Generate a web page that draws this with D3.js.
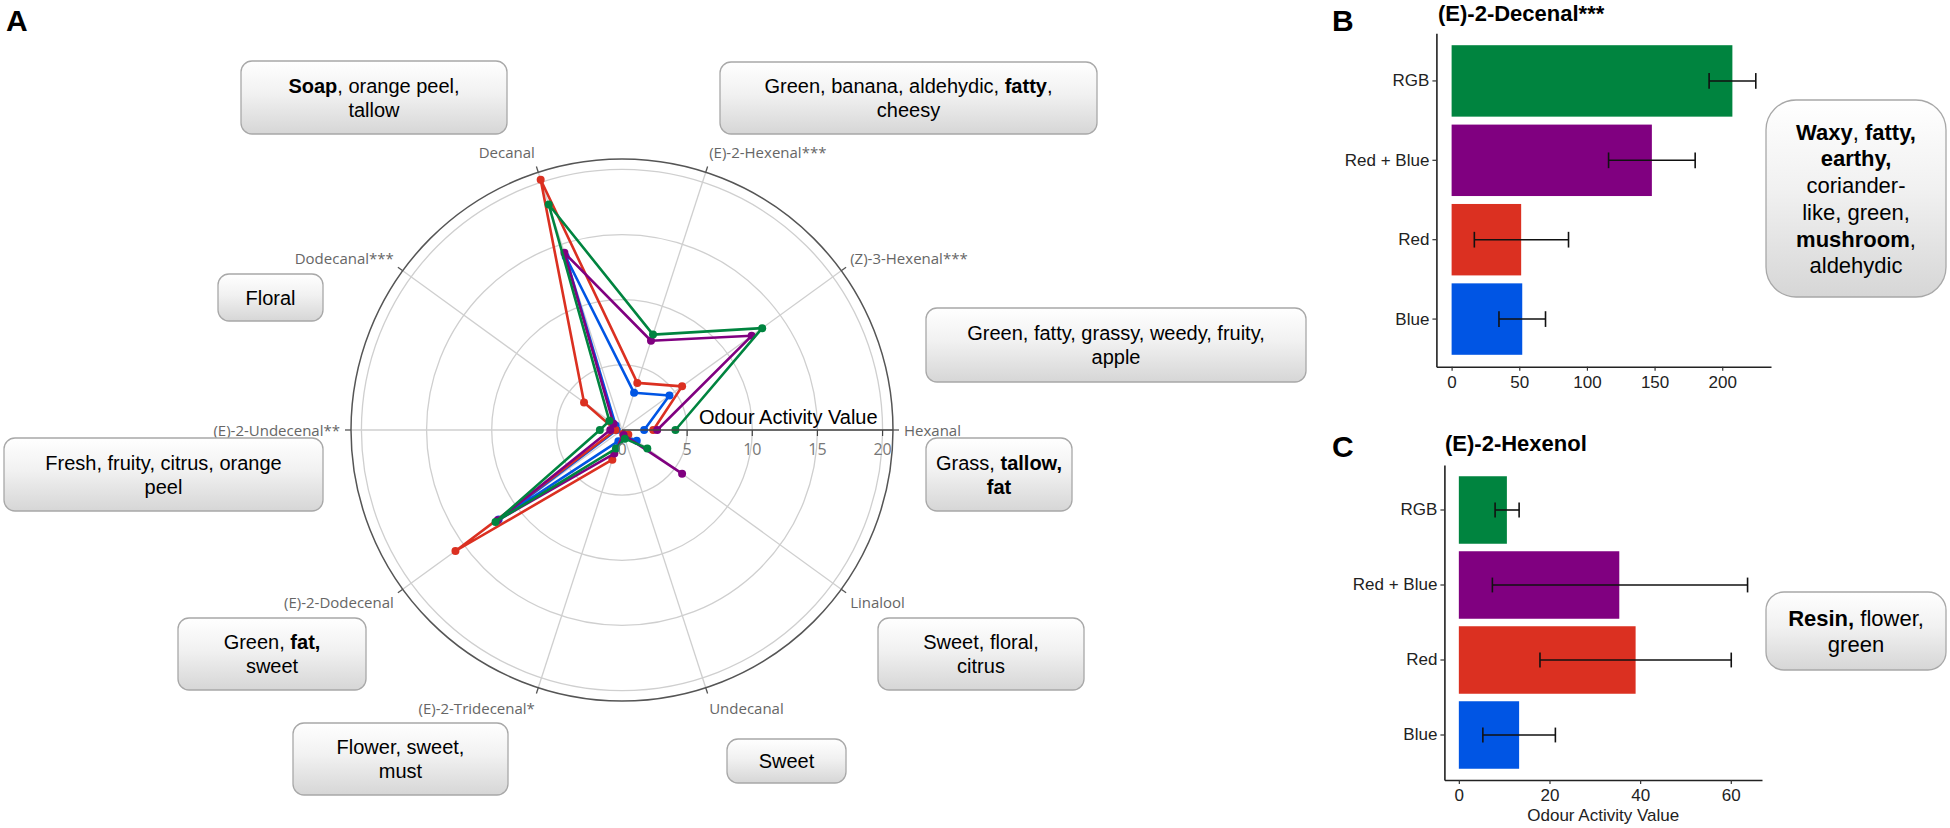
<!DOCTYPE html>
<html><head><meta charset="utf-8">
<script src="https://cdn.jsdelivr.net/npm/d3@7"></script>
<style>body{margin:0;background:#fff}svg{display:block}</style>
</head><body>
<svg id="c" width="1950" height="828"></svg>
<script>
// ---------------- DATA ----------------
const categories = ["Hexanal","(Z)-3-Hexenal***","(E)-2-Hexenal***","Decanal","Dodecanal***",
  "(E)-2-Undecenal**","(E)-2-Dodecenal","(E)-2-Tridecenal*","Undecanal","Linalool"];
const blueVals    = [1.7, 4.5, 3.0, 14.0, 0.6, 0.4, 11.7, 0.9, 0.5, 1.4];
const redVals     = [2.4, 5.7, 3.8, 20.2, 3.6, 0.5, 15.8, 2.4, 0.3, 0.6];
const redBlueVals = [2.7, 12.3, 7.2, 14.3, 0.8, 0.9, 11.8, 1.9, 0.4, 5.7];
const rgbVals     = [4.1, 13.3, 7.7, 18.2, 1.2, 1.7, 12.0, 1.5, 0.7, 2.4];
const radialTicks = [0, 5, 10, 15, 20];
const radialMax = 20.8;

const treatments  = ["RGB", "Red + Blue", "Red", "Blue"];
const decenalMean = [207.5, 148.0, 51.4, 52.2];
const decenalLow  = [190.3, 116.0, 16.8, 35.0];
const decenalHigh = [224.8, 180.0, 86.4, 69.4];
const decenalTicks = [0, 50, 100, 150, 200];
const hexenolMean = [10.6, 35.4, 39.0, 13.3];
const hexenolLow  = [8.0, 7.4, 17.9, 5.3];
const hexenolHigh = [13.3, 63.7, 60.1, 21.3];
const hexenolTicks = [0, 20, 40, 60];

// ---------------- STYLE ----------------
const colors = {Blue:"#0055E4", Red:"#DB3021", "Red + Blue":"#800080", RGB:"#00843F"};
const svg = d3.select("#c");
const sans = "'Liberation Sans', Arial, Helvetica, sans-serif";

const defs = svg.append("defs");
const grad = defs.append("linearGradient").attr("id","boxGrad").attr("x1",0).attr("y1",0).attr("x2",0).attr("y2",1);
grad.append("stop").attr("offset","0%").attr("stop-color","#ffffff");
grad.append("stop").attr("offset","45%").attr("stop-color","#f1f1f1");
grad.append("stop").attr("offset","100%").attr("stop-color","#d6d6d6");

// Panel letters
[["A",6,31],["B",1332,31],["C",1332,457]].forEach(([t,x,y])=>{
  svg.append("text").attr("x",x).attr("y",y).attr("font-family",sans).attr("font-weight","bold")
    .attr("font-size",30).attr("fill","#000").text(t);
});

// ---------------- POLAR (A) ----------------
const P = {cx:622, cy:430, rOuter:271};
const rScale = d3.scaleLinear().domain([0, radialMax]).range([0, P.rOuter]);
const aScale = d3.scaleLinear().domain([0, categories.length]).range([0, 2*Math.PI]);
const px = (i, v) => P.cx + rScale(v) * Math.cos(aScale(i));
const py = (i, v) => P.cy - rScale(v) * Math.sin(aScale(i));

const gp = svg.append("g");
gp.selectAll("circle.grid").data(radialTicks.filter(d=>d>0)).join("circle")
  .attr("cx",P.cx).attr("cy",P.cy).attr("r",d=>rScale(d))
  .attr("fill","none").attr("stroke","#cfcfcf").attr("stroke-width",1.3);
gp.selectAll("line.spoke").data(categories).join("line")
  .attr("x1",P.cx).attr("y1",P.cy)
  .attr("x2",(d,i)=>px(i,radialMax)).attr("y2",(d,i)=>py(i,radialMax))
  .attr("stroke","#cfcfcf").attr("stroke-width",1.3);
gp.append("circle").attr("cx",P.cx).attr("cy",P.cy).attr("r",rScale(radialMax))
  .attr("fill","none").attr("stroke","#555").attr("stroke-width",1.5);
gp.selectAll("line.atick").data(categories).join("line")
  .attr("x1",(d,i)=>px(i,radialMax)).attr("y1",(d,i)=>py(i,radialMax))
  .attr("x2",(d,i)=>P.cx+(P.rOuter+6)*Math.cos(aScale(i))).attr("y2",(d,i)=>P.cy-(P.rOuter+6)*Math.sin(aScale(i)))
  .attr("stroke","#555").attr("stroke-width",1.3);
gp.selectAll("text.alab").data(categories).join("text")
  .attr("x",(d,i)=>P.cx+(P.rOuter+11)*Math.cos(aScale(i)))
  .attr("y",(d,i)=>P.cy-(P.rOuter+11)*Math.sin(aScale(i)) - 10*Math.sin(aScale(i)))
  .attr("text-anchor",(d,i)=>{const c=Math.cos(aScale(i)); return c>0.05?"start":(c<-0.05?"end":"middle");})
  .attr("dominant-baseline","central")
  .attr("font-family","'Open Sans', sans-serif").attr("font-size",15).attr("fill","#666")
  .text(d=>d);

const series = [["Blue",blueVals],["Red",redVals],["Red + Blue",redBlueVals],["RGB",rgbVals]];
const lineGen = d3.line().x(d=>px(d.i,d.v)).y(d=>py(d.i,d.v));
series.forEach(([name, vals])=>{
  const pts = vals.map((v,i)=>({i,v}));
  gp.append("path").datum(pts).attr("d",lineGen).attr("fill","none")
    .attr("stroke",colors[name]).attr("stroke-width",2.6).attr("stroke-linejoin","round");
  gp.selectAll(null).data(pts).join("circle")
    .attr("cx",d=>px(d.i,d.v)).attr("cy",d=>py(d.i,d.v)).attr("r",4).attr("fill",colors[name]);
});

gp.append("line").attr("x1",P.cx).attr("y1",P.cy).attr("x2",P.cx+P.rOuter).attr("y2",P.cy)
  .attr("stroke","#444").attr("stroke-width",1.3);
gp.selectAll("line.rtick").data(radialTicks.filter(d=>d>0)).join("line")
  .attr("x1",d=>P.cx+rScale(d)).attr("x2",d=>P.cx+rScale(d))
  .attr("y1",P.cy).attr("y2",P.cy+6).attr("stroke","#444").attr("stroke-width",1.2);
gp.selectAll("text.rlab").data(radialTicks).join("text")
  .attr("x",d=>P.cx+rScale(d)).attr("y",P.cy+19).attr("text-anchor","middle")
  .attr("dominant-baseline","central")
  .attr("font-family","'Open Sans', sans-serif").attr("font-size",16).attr("fill","#777")
  .text(d=>d);
gp.append("text").attr("x",P.cx+77).attr("y",P.cy-6)
  .attr("font-family",sans).attr("font-size",20).attr("fill","#000").text("Odour Activity Value");

// ---------------- ANNOTATION BOXES ----------------
const boxesA = [
  {x0:241,y0:61,x1:507,y1:134, lines:[[["Soap",1],[", orange peel,",0]],[["tallow",0]]]},
  {x0:720,y0:62,x1:1097,y1:134, lines:[[["Green, banana, aldehydic, ",0],["fatty",1],[",",0]],[["cheesy",0]]]},
  {x0:218,y0:274,x1:323,y1:321, lines:[[["Floral",0]]]},
  {x0:926,y0:308,x1:1306,y1:382, lines:[[["Green, fatty, grassy, weedy, fruity,",0]],[["apple",0]]]},
  {x0:4,y0:438,x1:323,y1:511, lines:[[["Fresh, fruity, citrus, orange",0]],[["peel",0]]]},
  {x0:926,y0:438,x1:1072,y1:511, lines:[[["Grass, ",0],["tallow,",1]],[["fat",1]]]},
  {x0:878,y0:618,x1:1084,y1:690, lines:[[["Sweet, floral,",0]],[["citrus",0]]]},
  {x0:178,y0:618,x1:366,y1:690, lines:[[["Green, ",0],["fat,",1]],[["sweet",0]]]},
  {x0:293,y0:723,x1:508,y1:795, lines:[[["Flower, sweet,",0]],[["must",0]]]},
  {x0:727,y0:739,x1:846,y1:783, lines:[[["Sweet",0]]]}
];
const boxesBC = [
  {x0:1766,y0:100,x1:1946,y1:297, rx:30, fs:22, lh:26.7,
   lines:[[["Waxy",1],[", ",0],["fatty,",1]],[["earthy,",1]],[["coriander-",0]],[["like, green,",0]],[["mushroom",1],[",",0]],[["aldehydic",0]]]},
  {x0:1766,y0:592,x1:1946,y1:670, rx:18, fs:22, lh:26.7,
   lines:[[["Resin,",1],[" flower,",0]],[["green",0]]]}
];
function drawBox(b, rx, fs, lh){
  const g = svg.append("g");
  g.append("rect").attr("x",b.x0).attr("y",b.y0).attr("width",b.x1-b.x0).attr("height",b.y1-b.y0)
    .attr("rx",rx).attr("ry",rx).attr("fill","url(#boxGrad)").attr("stroke","#a8a8a8").attr("stroke-width",1.3);
  const cx = (b.x0+b.x1)/2, cy = (b.y0+b.y1)/2;
  const n = b.lines.length;
  b.lines.forEach((segs, k)=>{
    const t = g.append("text").attr("x",cx).attr("y",cy + (k-(n-1)/2)*lh)
      .attr("text-anchor","middle").attr("dominant-baseline","central")
      .attr("font-family",sans).attr("font-size",fs).attr("fill","#000");
    segs.forEach(([s,bold])=>{
      t.append("tspan").attr("font-weight",bold?"bold":"normal").text(s);
    });
  });
}
boxesA.forEach(b=>drawBox(b, 11, 20, 24));
boxesBC.forEach(b=>drawBox(b, b.rx, b.fs, b.lh));

// ---------------- BAR PANELS (B, C) ----------------
function barPanel(cfg){
  const g = svg.append("g");
  const hi = d3.max(cfg.high), pad = 0.05*hi;
  const x = d3.scaleLinear().domain([-pad, hi+pad]).range([cfg.xl, cfg.xr]);
  const y = d3.scaleBand().domain(treatments).range([cfg.yt, cfg.yb]).paddingInner(0.1).paddingOuter(0.15);
  g.selectAll("rect").data(treatments).join("rect")
    .attr("x",x(0)).attr("y",d=>y(d)).attr("height",y.bandwidth())
    .attr("width",(d,i)=>x(cfg.mean[i])-x(0)).attr("fill",d=>colors[d]);
  const cap = y.bandwidth()*0.22;
  treatments.forEach((d,i)=>{
    const yc = y(d)+y.bandwidth()/2;
    g.append("line").attr("x1",x(cfg.low[i])).attr("x2",x(cfg.high[i])).attr("y1",yc).attr("y2",yc)
      .attr("stroke","#111").attr("stroke-width",1.6);
    [cfg.low[i],cfg.high[i]].forEach(v=>{
      g.append("line").attr("x1",x(v)).attr("x2",x(v)).attr("y1",yc-cap/2).attr("y2",yc+cap/2)
        .attr("stroke","#111").attr("stroke-width",1.6);
    });
  });
  const ax = g.append("g").attr("transform",`translate(0,${cfg.yb})`)
    .call(d3.axisBottom(x).tickValues(cfg.ticks).tickSize(4).tickSizeOuter(0).tickPadding(5));
  const ay = g.append("g").attr("transform",`translate(${cfg.xl},0)`)
    .call(d3.axisLeft(y).tickSize(4).tickSizeOuter(0).tickPadding(3));
  [ax, ay].forEach(a=>{
    a.select(".domain").attr("stroke","#222").attr("stroke-width",1.6);
    a.selectAll(".tick line").attr("stroke","#333").attr("stroke-width",1.2);
    a.selectAll("text").attr("font-family",sans).attr("font-size",17).attr("fill","#222");
  });
  g.append("text").attr("x",cfg.titleX).attr("y",cfg.titleY).attr("font-family",sans)
    .attr("font-weight","bold").attr("font-size",22).attr("fill","#000").text(cfg.title);
  if (cfg.xTitle) {
    g.append("text").attr("x",(cfg.xl+cfg.xr)/2).attr("y",cfg.yb+41).attr("text-anchor","middle")
      .attr("font-family",sans).attr("font-size",17).attr("fill","#222").text(cfg.xTitle);
  }
}
barPanel({xl:1436.4, xr:1771, yt:33.3, yb:366.7, mean:decenalMean, low:decenalLow, high:decenalHigh,
  ticks:decenalTicks, title:"(E)-2-Decenal***", titleX:1438, titleY:21});
barPanel({xl:1444.4, xr:1762, yt:465, yb:780, mean:hexenolMean, low:hexenolLow, high:hexenolHigh,
  ticks:hexenolTicks, title:"(E)-2-Hexenol", titleX:1445, titleY:451, xTitle:"Odour Activity Value"});
</script>
</body></html>
